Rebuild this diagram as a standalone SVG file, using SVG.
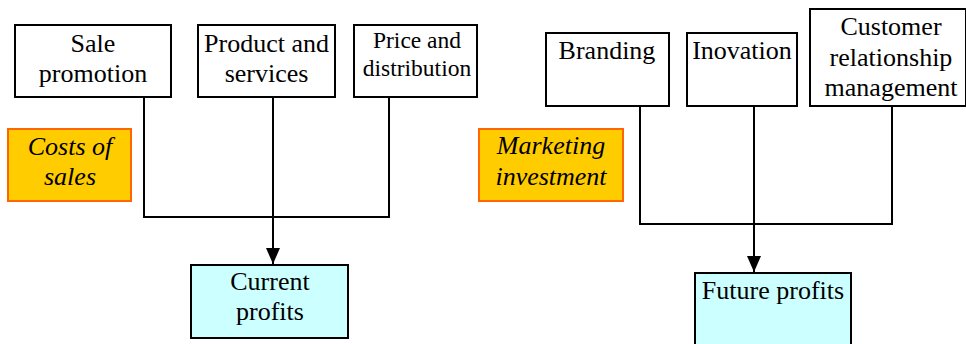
<svg xmlns="http://www.w3.org/2000/svg" width="966" height="344" viewBox="0 0 966 344">
<style>
text{font-family:"Liberation Serif","Times New Roman",serif;font-size:26px;fill:#000;text-anchor:middle}
.it{font-style:italic}
.box{fill:#fff;stroke:#000;stroke-width:2}
.cost{fill:#FFCC00;stroke:#FF6600;stroke-width:2}
.prof{fill:#CCFFFF;stroke:#000;stroke-width:2}
.ln{fill:none;stroke:#000;stroke-width:2}
</style>
<defs>
<marker id="ah" viewBox="0 0 16 14" refX="16" refY="7" markerWidth="16" markerHeight="14" markerUnits="userSpaceOnUse" orient="auto">
<path d="M0,0 L16,7 L0,14 Z" fill="#000"/>
</marker>
</defs>
<rect width="966" height="344" fill="#fff"/>
<g id="connectors">
<polyline class="ln" points="144,96 144,217 389,217 389,97"/>
<line class="ln" x1="273" y1="97" x2="273" y2="264" marker-end="url(#ah)"/>
<polyline class="ln" points="640,106 640,224 892,224 892,106"/>
<line class="ln" x1="754" y1="106" x2="754" y2="272" marker-end="url(#ah)"/>
</g>
<g id="sale"><rect class="box" x="15" y="25" width="156" height="72"/><text x="93" y="52">Sale</text><text x="93" y="82">promotion</text></g>
<g id="product"><rect class="box" x="198" y="25" width="137" height="72"/><text x="266.5" y="52">Product and</text><text x="266.5" y="82">services</text></g>
<g id="price"><rect class="box" x="354" y="25" width="123" height="72"/><text x="417" y="48" style="font-size:23.5px">Price and</text><text x="417" y="76" style="font-size:23.5px">distribution</text></g>
<g id="costs"><rect class="cost" x="8" y="129" width="123" height="72"/><text class="it" x="70" y="155">Costs of</text><text class="it" x="70" y="185">sales</text></g>
<g id="current"><rect class="prof" x="191" y="265" width="157" height="73"/><text x="270" y="290">Current</text><text x="270" y="320">profits</text></g>
<g id="branding"><rect class="box" x="546" y="33" width="123" height="73"/><text x="607" y="59">Branding</text></g>
<g id="inovation"><rect class="box" x="687" y="33" width="110" height="73"/><text x="742" y="59">Inovation</text></g>
<g id="crm"><rect class="box" x="810" y="9" width="156" height="97"/><text x="891" y="35">Customer</text><text x="891" y="66">relationship</text><text x="891" y="96">management</text></g>
<g id="marketing"><rect class="cost" x="479" y="129" width="144" height="72"/><text class="it" x="551" y="154">Marketing</text><text class="it" x="551" y="185">investment</text></g>
<g id="future"><rect class="prof" x="695" y="273" width="156" height="80"/><text x="773" y="299">Future profits</text></g>
</svg>
